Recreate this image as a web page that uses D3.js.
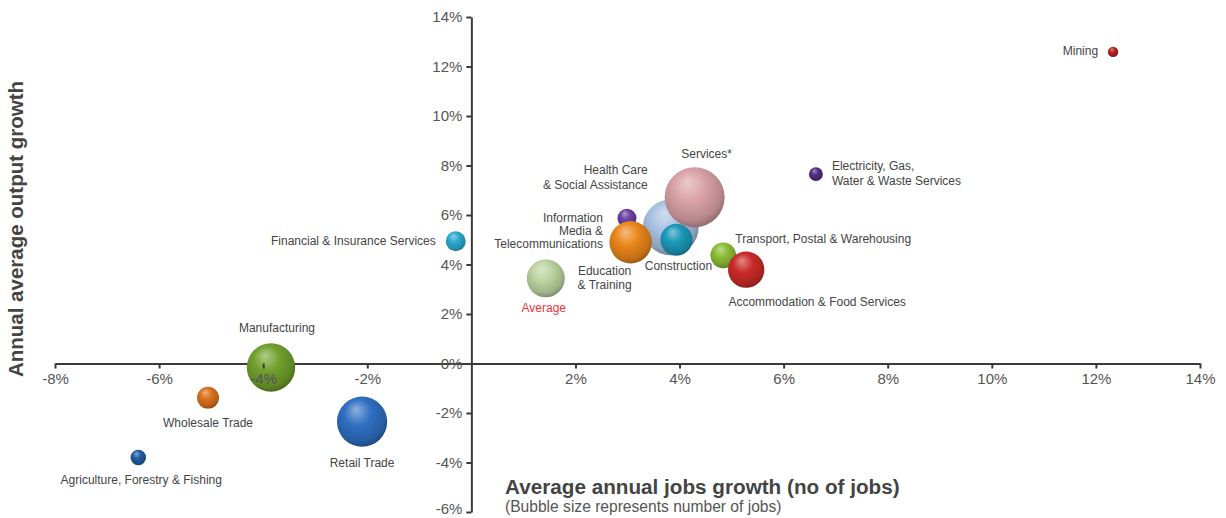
<!DOCTYPE html>
<html><head><meta charset="utf-8">
<script src="https://cdn.jsdelivr.net/npm/d3@7"></script>
<style>body{margin:0;background:#fff;font-family:"Liberation Sans",Arial,sans-serif;}</style>
</head><body>
<svg id="chart" width="1226" height="518"></svg>
<script>
// ---- data ----
const sectors = ["Mining","Electricity, Gas, Water & Waste Services","Health Care & Social Assistance","Services*","Information Media & Telecommunications","Education & Training","Construction","Transport, Postal & Warehousing","Accommodation & Food Services","Average","Financial & Insurance Services","Manufacturing","Wholesale Trade","Retail Trade","Agriculture, Forestry & Fishing"];
const jobsGrowth   = [12.33, 6.62, 3.83, 4.29, 2.99, 3.06, 3.94, 4.84, 5.28, 1.43, -0.30, -3.85, -5.06, -2.10, -6.40];
const outputGrowth = [12.59, 7.65, 5.50, 6.72, 5.87, 4.90, 5.00, 4.37, 3.79, 3.44, 4.94, -0.16, -1.38, -2.35, -3.80];
const jobs         = [9, 16, 260, 300, 30, 150, 85, 55, 110, 120, 33, 195, 40, 210, 20];
const colors = ["#b3211d","#4e2c80","#a9c0e2","#d9a1a6","#6b3fa3","#ea861a","#1b98b8","#8abb35","#c92b27","#bcd3a0","#2aa8cc","#70a02c","#d9701b","#2f6fc2","#1f5aa2"];
const labelLines = [["Mining"],["Electricity, Gas,","Water & Waste Services"],["Health Care","& Social Assistance"],["Services*"],["Information","Media &","Telecommunications"],["Education","& Training"],["Construction"],["Transport, Postal & Warehousing"],["Accommodation & Food Services"],["Average"],["Financial & Insurance Services"],["Manufacturing"],["Wholesale Trade"],["Retail Trade"],["Agriculture, Forestry & Fishing"]];
const xTicks = [-8,-6,-4,-2,2,4,6,8,10,12,14];
const yTicks = [14,12,10,8,6,4,2,0,-2,-4,-6];
const xTitle = "Average annual jobs growth (no of jobs)";
const xSubtitle = "(Bubble size represents number of jobs)";
const yTitle = "Annual average output growth";

// ---- layout ----
const svg = d3.select("#chart");
const x = d3.scaleLinear().domain([-8,14]).range([55,1200]);
const y = d3.scaleLinear().domain([-6,14]).range([512,17]);
const r = d3.scaleSqrt().domain([0,300]).range([0,30]);

const defs = svg.append("defs");
colors.forEach((c,i)=>{
  const g = defs.append("radialGradient").attr("id","g"+i)
    .attr("cx","45%").attr("cy","40%").attr("r","60%").attr("fx","38%").attr("fy","25%");
  const base = d3.color(c);
  g.append("stop").attr("offset","0%").attr("stop-color",d3.interpolateRgb(c,"#fff")(0.45));
  g.append("stop").attr("offset","45%").attr("stop-color",c);
  g.append("stop").attr("offset","85%").attr("stop-color",base.darker(0.5));
  g.append("stop").attr("offset","100%").attr("stop-color",base.darker(1.1));
});

const axisColor = "#3a3a3a";
svg.append("g").attr("transform",`translate(0,${y(0)})`)
  .call(d3.axisBottom(x).tickValues([]).tickSizeOuter(0))
  .call(g=>g.select(".domain").attr("stroke",axisColor).attr("stroke-width",2));
svg.append("g").attr("transform",`translate(${x(0)},0)`)
  .call(d3.axisLeft(y).tickValues([]).tickSizeOuter(0))
  .call(g=>g.select(".domain").attr("stroke",axisColor).attr("stroke-width",2));

const data = sectors.map((s,i)=>({s,i,x:jobsGrowth[i],y:outputGrowth[i],j:jobs[i]}));
svg.append("g").selectAll("circle").data(data).join("circle")
  .attr("cx",d=>x(d.x)).attr("cy",d=>y(d.y)).attr("r",d=>r(d.j))
  .attr("fill",d=>`url(#g${d.i})`);

const tickFont = g=>g.selectAll("text").attr("fill","#555").attr("font-size",15)
  .attr("font-family","Liberation Sans, Arial, sans-serif");
svg.append("g").attr("transform",`translate(0,${y(0)})`)
  .call(d3.axisBottom(x).tickValues(xTicks).tickSize(5).tickPadding(5).tickFormat(d=>d+"%"))
  .call(g=>g.select(".domain").remove())
  .call(g=>g.selectAll("line").attr("stroke",axisColor).attr("stroke-width",2))
  .call(tickFont);
svg.append("g").attr("transform",`translate(${x(0)},0)`)
  .call(d3.axisLeft(y).tickValues(yTicks).tickSize(5).tickPadding(4).tickFormat(d=>d+"%"))
  .call(g=>g.select(".domain").remove())
  .call(g=>g.selectAll("line").attr("stroke",axisColor).attr("stroke-width",2))
  .call(tickFont)
  .call(g=>g.selectAll(".tick").filter(d=>d===-6).select("text").attr("dy","0.1em"));

// bubble labels: [anchor, dx, dy(centre of text block), line height]
const labelPos = [
  ["end",-15,0,14],["start",16,0.5,15],["end",-23,-49,15],["middle",12,-42,14],["end",-24,13.5,12.8],
  ["middle",-26,37,14],["middle",2,27,14],["start",12,-15,14],["middle",71,33,14],["middle",-2,31,14],
  ["end",-20,1,14],["middle",6,-38,14],["middle",0,26,14],["middle",0,42,14],["middle",3,23,14]
];
const lab = svg.append("g").attr("font-size",12).attr("fill","#444");
data.forEach(d=>{
  const [anc,dx,dy,lh] = labelPos[d.i];
  const lines = labelLines[d.i];
  const t = lab.append("text").attr("text-anchor",anc)
    .attr("x",x(d.x)+dx).attr("y",y(d.y)+dy-(lines.length-1)*lh/2)
    .attr("dominant-baseline","middle")
    .attr("fill",d.s==="Average"?"#e8343a":"#444");
  lines.forEach((l,k)=>t.append("tspan").attr("x",x(d.x)+dx).attr("dy",k?lh:0).text(l));
});

svg.append("text").attr("x",505).attr("y",494).attr("font-size",20.7).attr("font-weight","bold")
  .attr("fill","#444").text(xTitle);
svg.append("text").attr("x",505).attr("y",512).attr("font-size",15.6).attr("fill","#555").text(xSubtitle);
svg.append("text").attr("transform","translate(23,229) rotate(-90)").attr("text-anchor","middle")
  .attr("font-size",20.5).attr("font-weight","bold").attr("fill","#444").text(yTitle);
</script>
</body></html>
